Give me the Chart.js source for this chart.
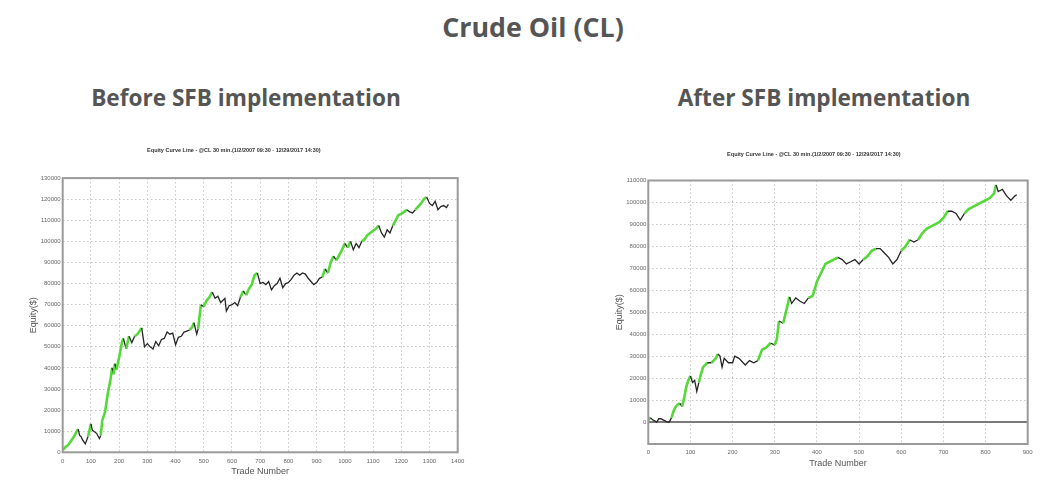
<!DOCTYPE html>
<html>
<head>
<meta charset="utf-8">
<script src="https://cdn.jsdelivr.net/npm/chart.js@4.4.1/dist/chart.umd.min.js"></script>
<style>
  body { margin: 0; background: #fff; width: 1064px; height: 486px; position: relative; overflow: hidden; }
  .head { position: absolute; text-align: center; font-family: "Open Sans", sans-serif; font-weight: 700; color: #555; white-space: nowrap; }
  canvas { position: absolute; }
</style>
</head>
<body>
<div class="head" style="left:0; width:1066px; top:11px; line-height:32px; font-size:26.8px;">Crude Oil (CL)</div>
<div class="head" style="left:46px; width:400px; top:83px; line-height:30px; font-size:22.6px;">Before SFB implementation</div>
<div class="head" style="left:624px; width:400px; top:83px; line-height:30px; font-size:22.6px;">After SFB implementation</div>
<canvas id="beforeChart" width="470" height="345" style="left:10px; top:140px;"></canvas>
<canvas id="afterChart" width="444" height="345" style="left:600px; top:140px;"></canvas>
<script>
// Equity curve, before SFB (trade number / equity $)
const beforeTrades = [
  0, 10, 20, 30, 40, 50, 55, 60, 65, 70,
  80, 90, 100, 105, 110, 120, 130, 135, 140, 150,
  160, 170, 175, 180, 185, 190, 200, 210, 215, 225,
  235, 245, 255, 265, 280, 290, 300, 310, 320, 330,
  340, 350, 360, 370, 380, 390, 400, 410, 420, 430,
  440, 450, 460, 465, 475, 480, 490, 500, 510, 520,
  530, 540, 550, 560, 575, 580, 590, 600, 610, 620,
  630, 640, 650, 660, 670, 680, 690, 700, 710, 720,
  730, 740, 750, 760, 770, 780, 790, 800, 810, 820,
  830, 840, 850, 860, 870, 880, 890, 900, 910, 920,
  930, 940, 950, 960, 970, 980, 990, 1000, 1010, 1020,
  1030, 1040, 1050, 1060, 1070, 1080, 1090, 1100, 1110, 1120,
  1130, 1140, 1150, 1160, 1170, 1180, 1190, 1200, 1210, 1220,
  1230, 1240, 1250, 1260, 1270, 1280, 1290, 1300, 1310, 1320,
  1330, 1340, 1350, 1360, 1367
];
const beforeEquity = [
  1000, 2500, 3500, 5500, 7500, 10000, 11000, 8000, 7500, 6000,
  4000, 7500, 13500, 10500, 10000, 9000, 6500, 8000, 15000, 19000,
  28000, 35000, 40000, 37000, 42000, 39000, 45000, 52000, 54000, 49000,
  55000, 52000, 55000, 56000, 59000, 50000, 51500, 50000, 49000, 52500,
  50500, 53500, 54000, 57000, 56000, 56500, 51000, 54500, 55000, 57000,
  57500, 58000, 59500, 61500, 56000, 58500, 70000, 69000, 72000, 73500,
  76000, 73000, 74000, 71000, 73000, 67000, 69500, 70000, 71000, 69500,
  73500, 76500, 74500, 77500, 79500, 84000, 85000, 80000, 80500, 79500,
  81000, 77000, 79000, 80000, 82500, 78000, 80000, 80500, 82000, 84000,
  85000, 84000, 85000, 84500, 82500, 81000, 79500, 80500, 82500, 83000,
  87000, 85000, 90000, 93000, 91000, 93500, 96000, 99000, 97000, 100000,
  96000, 99000, 97000, 100000, 101000, 103000, 104000, 105000, 106000, 107500,
  104000, 102000, 105500, 104000, 107500, 110000, 112500, 113000, 114000, 115000,
  114000, 113500, 115000, 116500, 118000, 120000, 121000, 118000, 117000, 119000,
  115000, 116500, 117000, 116000, 117500
];

// Equity curve, after SFB
const afterTrades = [
  0, 5, 10, 15, 20, 25, 30, 35, 40, 45,
  50, 55, 60, 65, 70, 75, 80, 85, 90, 95,
  100, 105, 110, 115, 120, 125, 130, 140, 150, 160,
  165, 170, 175, 180, 190, 200, 205, 215, 225, 230,
  240, 250, 260, 270, 280, 290, 300, 305, 310, 320,
  330, 335, 340, 350, 360, 370, 380, 390, 400, 410,
  420, 430, 440, 450, 460, 470, 480, 490, 500, 510,
  520, 530, 540, 550, 560, 570, 580, 590, 600, 610,
  620, 630, 640, 650, 660, 670, 680, 690, 700, 710,
  720, 730, 740, 750, 760, 770, 780, 790, 800, 810,
  820, 825, 830, 840, 850, 860, 870, 874
];
const afterEquity = [
  1000, 2000, 1000, 500, 0, 1500, 1500, 1000, 500, 0,
  0, 2000, 5000, 7000, 8000, 8500, 7000, 11000, 16000, 19000,
  21000, 18000, 19000, 14000, 18000, 22000, 25000, 27000, 27000, 29000,
  31000, 30000, 25000, 29000, 27000, 27000, 30000, 29000, 27000, 26000,
  28000, 27000, 28000, 33000, 34000, 36000, 35000, 38000, 46000, 45000,
  53000, 57000, 54000, 56500, 55000, 54000, 56500, 57500, 64000, 68000,
  72000, 73000, 74000, 75000, 74000, 72000, 73000, 74000, 72000, 74000,
  75500, 78000, 79000, 79000, 77000, 75000, 72000, 74000, 78000, 80000,
  83000, 82000, 83000, 86000, 88000, 89000, 90000, 91000, 93000, 96000,
  96000, 95000, 92000, 95000, 97000, 98000, 99000, 100000, 101000, 102000,
  104000, 108000, 105000, 106000, 103000, 101000, 103000, 103500
];

const beforeYTicks = { min: 0, max: 130000, step: 10000 };
const beforeXTicks = { min: 0, max: 1400, step: 100 };
const afterYTicks = { min: -10000, max: 110000, step: 10000 };
const afterXTicks = { min: 0, max: 900, step: 100 };

const chartTitle = 'Equity Curve Line - @CL 30 min.(1/2/2007 09:30 - 12/29/2017 14:30)';

// segments reaching a new equity high are drawn green
function newHighFlags(values) {
  let peak = -Infinity;
  return values.map(v => {
    const isHigh = v > peak;
    if (isHigh) peak = v;
    return isHigh;
  });
}

const frameBox = {
  id: 'frameBox',
  afterDatasetsDraw(chart) {
    const { ctx, chartArea: a } = chart;
    ctx.save();
    ctx.strokeStyle = '#9a9a9a';
    ctx.lineWidth = 2;
    ctx.strokeRect(a.left, a.top, a.right - a.left, a.bottom - a.top);
    ctx.restore();
  }
};

function buildChart(id, trades, equity, xt, yt, dims) {
  const flags = newHighFlags(equity);
  const points = trades.map((t, i) => ({ x: t, y: equity[i] }));
  const tickFont = { family: '"Liberation Sans", Arial, sans-serif', size: 6 };
  const axisTitleFont = { family: '"Liberation Sans", Arial, sans-serif', size: 9 };

  return new Chart(document.getElementById(id), {
    type: 'line',
    data: {
      datasets: [{
        data: points,
        borderColor: '#222',
        borderWidth: 1.3,
        pointRadius: 0,
        tension: 0,
        segment: {
          borderColor: c => flags[c.p1DataIndex] ? '#55d83a' : '#262626',
          borderWidth: c => flags[c.p1DataIndex] ? 2.6 : 1.3
        }
      }]
    },
    options: {
      responsive: false,
      animation: false,
      events: [],
      layout: { padding: { left: 0, right: dims.padRight, top: 0, bottom: 0 } },
      plugins: {
        legend: { display: false },
        tooltip: { enabled: false },
        title: {
          display: true,
          text: chartTitle,
          color: '#333',
          font: { family: '"Liberation Sans", Arial, sans-serif', size: 5.5, weight: 'bold' },
          padding: { top: dims.titleTop, bottom: dims.titleBottom }
        }
      },
      scales: {
        x: {
          type: 'linear',
          min: xt.min,
          max: xt.max,
          afterFit: s => { s.height = dims.xHeight; },
          ticks: {
            stepSize: xt.step,
            autoSkip: false,
            maxRotation: 0,
            padding: dims.xTickPad,
            color: '#666',
            font: tickFont,
            callback: v => String(v)
          },
          grid: { drawTicks: false, color: '#c6c6c6', lineWidth: 1 },
          border: { display: false, dash: [1.5, 2.5] },
          title: {
            display: true,
            text: 'Trade Number',
            color: '#555',
            font: axisTitleFont,
            padding: { top: 0, bottom: dims.xTitlePad }
          }
        },
        y: {
          type: 'linear',
          min: yt.min,
          max: yt.max,
          afterFit: s => { s.width = dims.yWidth; },
          ticks: {
            stepSize: yt.step,
            autoSkip: false,
            padding: 2,
            color: '#666',
            font: tickFont,
            callback: v => (v < 0 ? '' : String(v))
          },
          grid: {
            drawTicks: false,
            color: c => (c.tick && c.tick.value === 0 && yt.min < 0) ? '#7a7a7a' : '#c6c6c6',
            lineWidth: c => (c.tick && c.tick.value === 0 && yt.min < 0) ? 2 : 1
          },
          border: {
            display: false,
            dash: c => (c.tick && c.tick.value === 0 && yt.min < 0) ? [] : [1.5, 2.5]
          },
          title: {
            display: true,
            text: 'Equity($)',
            color: '#555',
            font: axisTitleFont,
            padding: { top: dims.yTitlePad, bottom: 0 }
          }
        }
      }
    },
    plugins: [frameBox]
  });
}

buildChart('beforeChart', beforeTrades, beforeEquity, beforeXTicks, beforeYTicks, {
  padRight: 22.3, titleTop: 7.4, titleBottom: 24.1, xHeight: 32.7,
  yWidth: 52.7, xTickPad: 5, xTitlePad: 7.6, yTitlePad: 18.5
});
buildChart('afterChart', afterTrades, afterEquity, afterXTicks, afterYTicks, {
  padRight: 16.3, titleTop: 11.4, titleBottom: 22.5, xHeight: 41,
  yWidth: 48.3, xTickPad: 5, xTitlePad: 16.3, yTitlePad: 14.5
});
</script>
</body>
</html>
